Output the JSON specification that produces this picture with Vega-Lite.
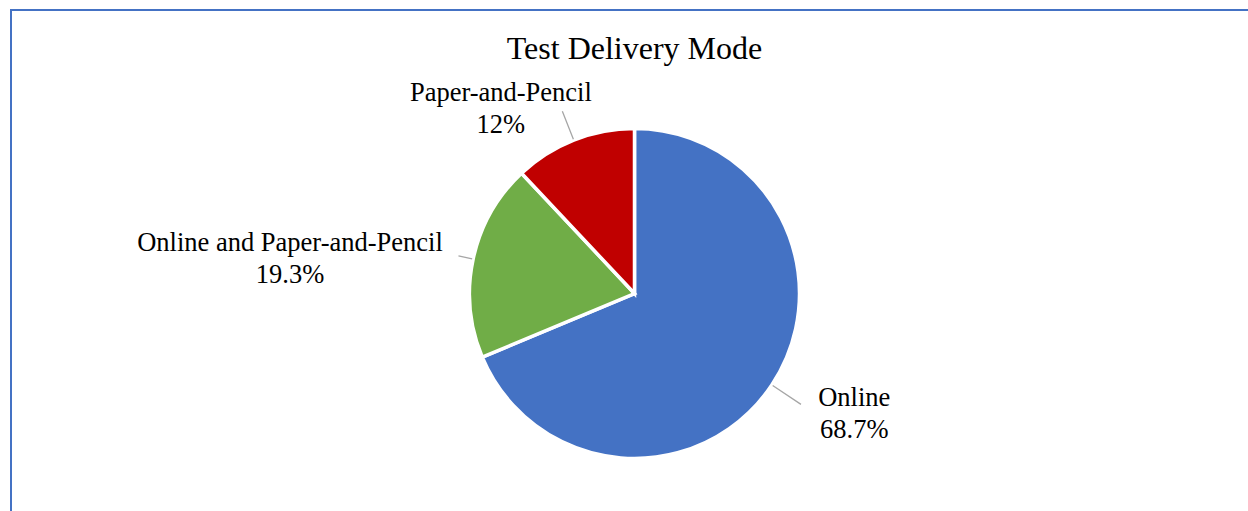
{
  "$schema": "https://vega.github.io/schema/vega-lite/v6.json",
  "width": 1247,
  "height": 567,
  "autosize": {"type": "none"},
  "padding": {"left": 11, "top": 10, "right": -10, "bottom": -66},
  "background": "white",
  "view": {"stroke": "#4472C4", "strokeWidth": 2, "fill": "white"},
  "config": {"view": {"stroke": "#4472C4", "strokeWidth": 2}, "font": "Liberation Serif"},
  "title": {"text": "Test Delivery Mode", "font": "Liberation Serif", "fontSize": 32, "fontWeight": "normal", "color": "#000000", "anchor": "middle", "frame": "group", "baseline": "alphabetic", "offset": -81},
  "data": {"values": [
    {"category": "Online", "value": 68.7, "order": 1},
    {"category": "Online and Paper-and-Pencil", "value": 19.3, "order": 2},
    {"category": "Paper-and-Pencil", "value": 12, "order": 3}
  ]},
  "transform": [
    {"window": [{"op": "sum", "field": "value", "as": "cum"}], "sort": [{"field": "order"}], "frame": [null, 0]},
    {"calculate": "datum.cum - datum.value / 2", "as": "mid"},
    {"calculate": "[datum.category, datum.value + '%']", "as": "label"}
  ],
  "layer": [
    {
      "mark": {"type": "arc", "outerRadius": 165, "stroke": "white", "strokeWidth": 3.5},
      "encoding": {
        "theta": {"field": "value", "type": "quantitative", "stack": true},
        "order": {"field": "order", "type": "quantitative"},
        "color": {"field": "category", "type": "nominal", "legend": null,
          "scale": {"domain": ["Online", "Online and Paper-and-Pencil", "Paper-and-Pencil"], "range": ["#4472C4", "#70AD47", "#C00000"]}}
      }
    },
    {
      "transform": [{"filter": "datum.category == 'Online'"}],
      "mark": {"type": "arc", "innerRadius": 166, "outerRadius": 200, "stroke": "#A6A6A6", "strokeWidth": 1.3, "fill": null},
      "encoding": {"theta": {"field": "mid", "type": "quantitative", "stack": null}, "theta2": {"field": "mid"}}
    },
    {
      "transform": [{"filter": "datum.category == 'Paper-and-Pencil'"}],
      "mark": {"type": "arc", "innerRadius": 166, "outerRadius": 196, "stroke": "#A6A6A6", "strokeWidth": 1.3, "fill": null},
      "encoding": {"theta": {"field": "mid", "type": "quantitative", "stack": null}, "theta2": {"field": "mid"}}
    },
    {
      "transform": [{"filter": "datum.category == 'Online and Paper-and-Pencil'"}],
      "mark": {"type": "arc", "innerRadius": 166, "outerRadius": 180, "stroke": "#A6A6A6", "strokeWidth": 1.3, "fill": null},
      "encoding": {"theta": {"field": "mid", "type": "quantitative", "stack": null}, "theta2": {"field": "mid"}}
    },
    {
      "transform": [{"filter": "datum.category == 'Online'"}],
      "mark": {"type": "text", "radius": 240, "dx": 20, "dy": -21, "align": "center", "baseline": "alphabetic", "fontSize": 26.5, "lineHeight": 32, "font": "Liberation Serif", "color": "#000000"},
      "encoding": {"theta": {"field": "mid", "type": "quantitative", "stack": null}, "text": {"field": "label"}}
    },
    {
      "transform": [{"filter": "datum.category == 'Paper-and-Pencil'"}],
      "mark": {"type": "text", "radius": 200, "dx": -60, "dy": -7, "align": "center", "baseline": "alphabetic", "fontSize": 26.5, "lineHeight": 32, "font": "Liberation Serif", "color": "#000000"},
      "encoding": {"theta": {"field": "mid", "type": "quantitative", "stack": null}, "text": {"field": "label"}}
    },
    {
      "transform": [{"filter": "datum.category == 'Online and Paper-and-Pencil'"}],
      "mark": {"type": "text", "radius": 250, "dx": -100, "dy": 10, "align": "center", "baseline": "alphabetic", "fontSize": 26.5, "lineHeight": 32, "font": "Liberation Serif", "color": "#000000"},
      "encoding": {"theta": {"field": "mid", "type": "quantitative", "stack": null}, "text": {"field": "label"}}
    }
  ]
}
